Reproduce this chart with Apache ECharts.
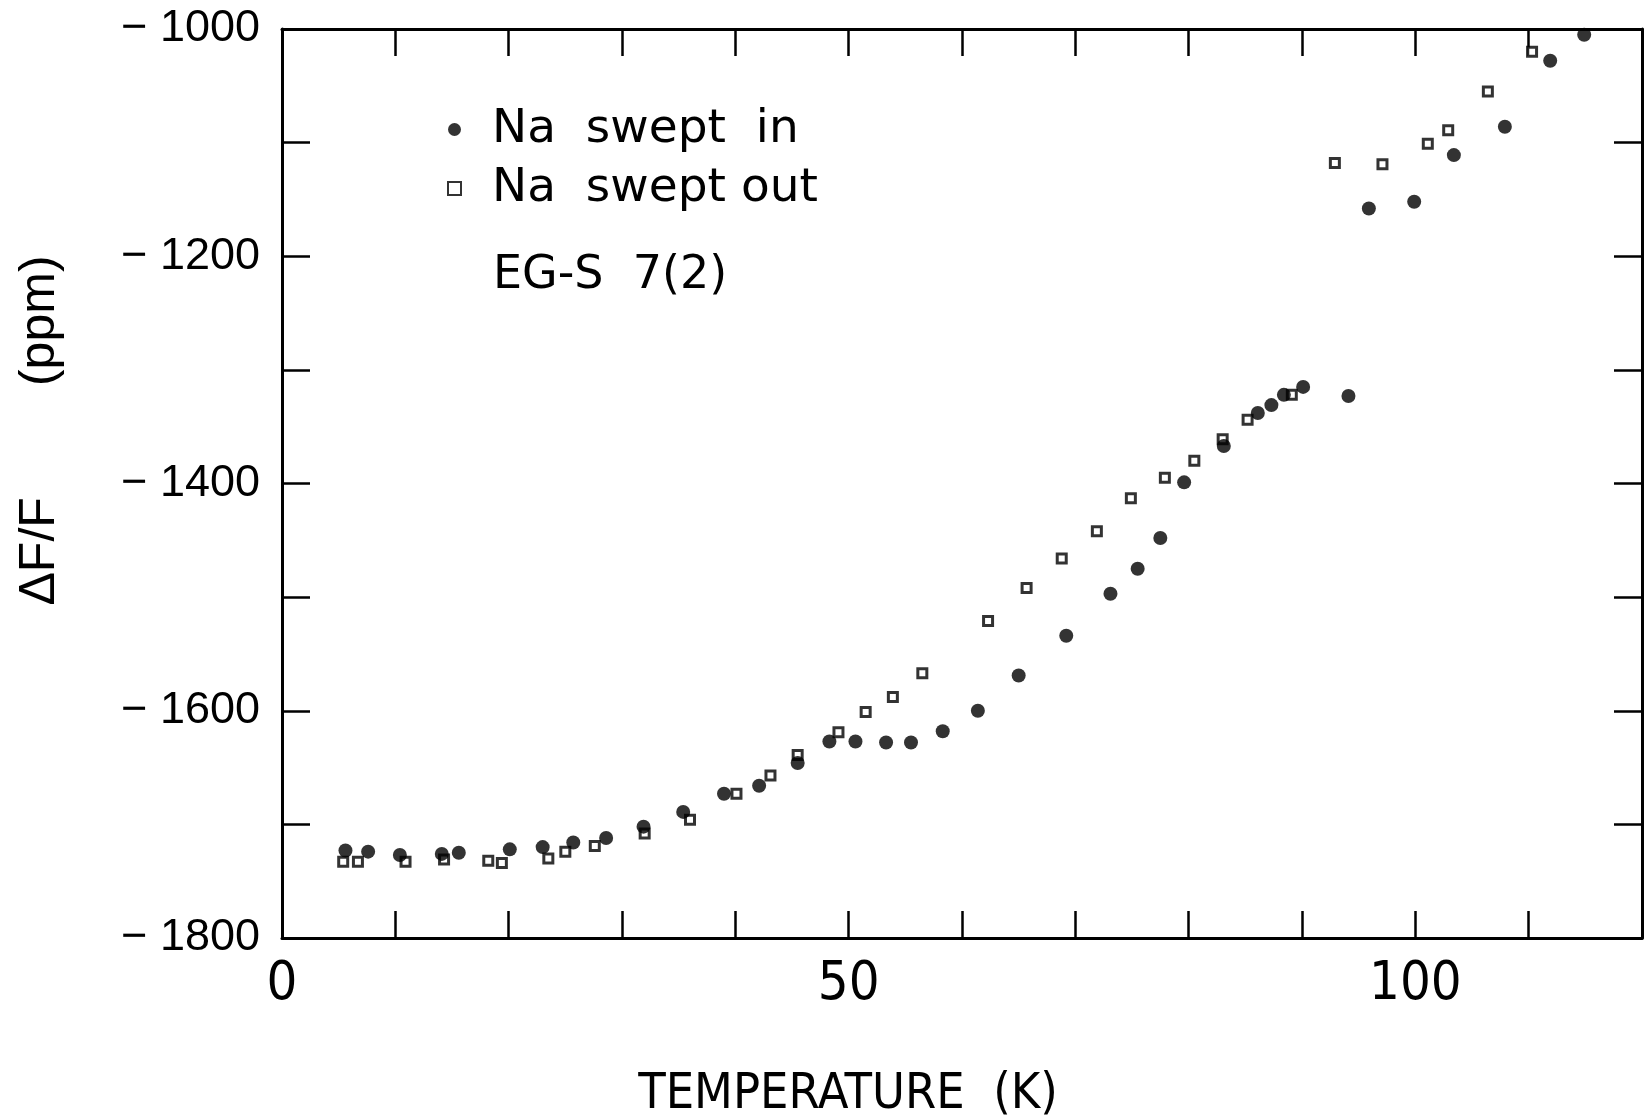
<!DOCTYPE html>
<html>
<head>
<meta charset="utf-8">
<title>EG-S 7(2)</title>
<script src="https://cdn.jsdelivr.net/npm/echarts@6/dist/echarts.min.js"></script>
<style>
  html, body { margin: 0; padding: 0; background: #fff; }
  #chart { width: 1646px; height: 1117px; }
</style>
</head>
<body>
<div id="chart"></div>
<script>
// Na swept in (filled circles)
const sweptInTemp = [5.6, 7.6, 10.4, 14.1, 15.6, 20.1, 23.0, 25.7, 28.6, 31.9, 35.4, 39.0, 42.1, 45.5, 48.3, 50.6, 53.3, 55.5, 58.3, 61.4, 65.0, 69.2, 73.1, 75.5, 77.5, 79.6, 83.1, 86.1, 87.3, 88.4, 90.1, 94.1, 95.9, 99.9, 103.4, 107.9, 111.9, 114.9];
const sweptInShift = [-1723, -1724, -1727, -1726, -1725, -1722, -1720, -1716, -1712, -1702, -1689, -1673, -1666, -1646, -1627, -1627, -1628, -1628, -1618, -1600, -1569, -1534, -1497, -1475, -1448, -1399, -1367, -1338, -1331, -1322, -1315, -1323, -1158, -1152, -1111, -1086, -1028, -1005];

// Na swept out (open squares)
const sweptOutTemp = [5.4, 6.7, 10.9, 14.3, 18.2, 19.4, 23.5, 25.0, 27.6, 32.0, 36.0, 40.1, 43.1, 45.5, 49.1, 51.5, 53.9, 56.5, 62.3, 65.7, 68.8, 71.9, 74.9, 77.9, 80.5, 83.0, 85.2, 89.1, 92.9, 97.1, 101.1, 102.9, 106.4, 110.3];
const sweptOutShift = [-1733, -1733, -1733, -1731, -1732, -1734, -1730, -1724, -1719, -1708, -1696, -1673, -1657, -1639, -1619, -1601, -1588, -1567, -1521, -1492, -1466, -1442, -1413, -1395, -1380, -1361, -1344, -1322, -1118, -1119, -1101, -1089, -1055, -1020];

const xLabels = [0, 50, 100];
const yLabels = [-1000, -1200, -1400, -1600, -1800];

const ink = "#000";
const narrowFont = "'DejaVu Sans Condensed', 'Liberation Sans Narrow', sans-serif";

function pairs(xs, ys) {
  return xs.map((x, i) => [x, ys[i]]);
}

function tempAxis(position, showLabels) {
  return {
    type: "value",
    position: position,
    min: 0,
    max: 120,
    interval: 10,
    axisLine: { show: true, onZero: false, lineStyle: { color: ink, width: 3 } },
    axisTick: { show: true, inside: true, length: 27, lineStyle: { color: ink, width: 2.5 } },
    splitLine: { show: false },
    axisLabel: {
      show: showLabels,
      margin: 20,
      color: ink,
      fontFamily: narrowFont,
      fontSize: 54,
      formatter: (v) => (xLabels.includes(v) ? String(v) : ""),
    },
  };
}

function shiftAxis(position, showLabels) {
  return {
    type: "value",
    position: position,
    min: -1800,
    max: -1000,
    interval: 100,
    axisLine: { show: true, onZero: false, lineStyle: { color: ink, width: 3 } },
    axisTick: { show: true, inside: true, length: 28, lineStyle: { color: ink, width: 2.5 } },
    splitLine: { show: false },
    axisLabel: {
      show: showLabels,
      margin: 22,
      color: ink,
      fontFamily: "'Liberation Sans', sans-serif",
      fontSize: 45,
      formatter: (v) => (yLabels.includes(v) ? "\u2212 " + Math.abs(v) : ""),
    },
  };
}

function init() {
  const chart = echarts.init(document.getElementById("chart"));

  const bottomX = tempAxis("bottom", true);
  bottomX.name = "TEMPERATURE  (K)";
  bottomX.nameLocation = "middle";
  bottomX.nameGap = 132;
  bottomX.nameTextStyle = {
    color: ink,
    fontFamily: narrowFont,
    fontSize: 50,
    padding: [0, 228, 0, 0],
  };

  const leftY = shiftAxis("left", true);
  leftY.name = "\u0394F/F        (ppm)";
  leftY.nameLocation = "middle";
  leftY.nameGap = 217;
  leftY.nameTextStyle = {
    color: ink,
    fontFamily: "'Liberation Sans', sans-serif",
    fontSize: 50,
    padding: [0, 0, 0, 106],
  };

  const option = {
    animation: false,
    backgroundColor: "#fff",
    title: {
      text: "EG-S  7(2)",
      left: 488,
      top: 248,
      textStyle: {
        color: ink,
        fontFamily: "'DejaVu Sans', sans-serif",
        fontSize: 46,
        fontWeight: "normal",
      },
    },
    legend: {
      orient: "vertical",
      left: 442,
      top: 101,
      itemWidth: 13,
      itemHeight: 13,
      itemGap: 12,
      textStyle: {
        color: ink,
        fontFamily: "'DejaVu Sans', sans-serif",
        fontSize: 47,
        padding: [0, 0, 0, 26],
      },
      data: ["Na  swept  in", "Na  swept out"],
    },
    grid: {
      left: 282,
      right: 4,
      top: 29,
      bottom: 179,
      containLabel: false,
      outerBoundsMode: "none",
    },
    xAxis: [bottomX, tempAxis("top", false)],
    yAxis: [leftY, shiftAxis("right", false)],
    series: [
      {
        name: "Na  swept out",
        type: "scatter",
        symbol: "rect",
        symbolSize: 9,
        itemStyle: { color: "#fff", borderColor: ink, borderWidth: 3 },
        data: pairs(sweptOutTemp, sweptOutShift),
      },
      {
        name: "Na  swept  in",
        type: "scatter",
        symbol: "circle",
        symbolSize: 14,
        itemStyle: { color: ink },
        data: pairs(sweptInTemp, sweptInShift),
      },
    ],
  };

  chart.setOption(option);
  return chart;
}

init();
</script>
</body>
</html>
